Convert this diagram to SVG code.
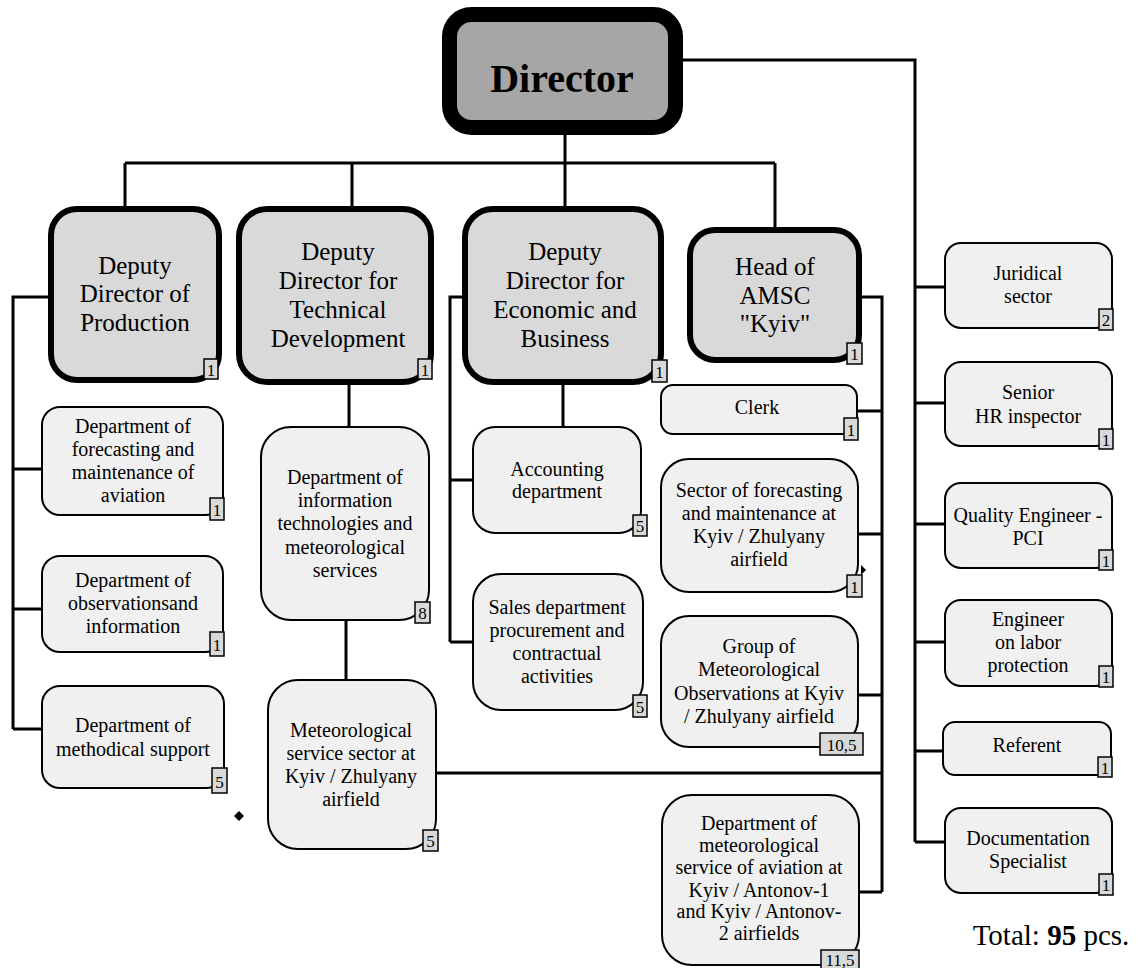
<svg xmlns="http://www.w3.org/2000/svg" width="1139" height="968" viewBox="0 0 1139 968" font-family="'Liberation Serif', 'DejaVu Serif', serif">
<style>
text{font-family:'Liberation Serif','DejaVu Serif',serif;fill:#000;text-anchor:middle}
.t{font-size:20px}
.d{font-size:25px}
.b{font-size:17px}
.sub{fill:#f0f0f0;stroke:#000;stroke-width:2}
.dep{fill:#d9d9d9;stroke:#000;stroke-width:6}
.badge{fill:#d9d9d9;stroke:#000;stroke-width:1.5}
.c{stroke:#000;stroke-width:3;fill:none}
</style>
<rect width="1139" height="968" fill="#fff"/>
<g id="connectors">
<path class="c" d="M683 60H915V842M915 287H944M915 403H944M915 524H944M915 642H944M915 751H944M915 842H944"/>
<path class="c" d="M565 135V209M125 163H775M125 163V209M352 163V209M775 163V230"/>
<path class="c" d="M51 297H13V729M13 469H41M13 609H41M13 729H41"/>
<path class="c" d="M349 382V426M346 620V679"/>
<path class="c" d="M465 297H450V642M450 480H472M450 642H472M563 382V426"/>
<path class="c" d="M859 297H882V892M857 411H882M859 534H882M859 695H882M437 773H882M860 892H882"/>
<path d="M239 811L244 816L239 821L234 816Z" fill="#000"/>
<path d="M861 565L866 570L861 575Z" fill="#000"/>
</g>
<g id="director">
<rect x="449.5" y="14.5" width="226" height="113" rx="22" fill="#a6a6a6" stroke="#000" stroke-width="15"/>
<text x="562" y="92" style="font-size:40px;font-weight:bold">Director</text>
</g>
<g id="dep-production">
<rect class="dep" x="51" y="209" width="168" height="171" rx="26"/>
<text class="d" x="135" y="274">Deputy</text>
<text class="d" x="135" y="302">Director of</text>
<text class="d" x="135" y="331">Production</text>
<rect class="badge" x="204" y="359" width="14" height="20"/><text class="b" x="211" y="376">1</text>
</g>
<g id="dep-technical">
<rect class="dep" x="239" y="209" width="192" height="173" rx="28"/>
<text class="d" x="338" y="260">Deputy</text>
<text class="d" x="338" y="289">Director for</text>
<text class="d" x="338" y="318">Technical</text>
<text class="d" x="338" y="347">Development</text>
<rect class="badge" x="418" y="359" width="14" height="20"/><text class="b" x="425" y="376">1</text>
</g>
<g id="dep-economic">
<rect class="dep" x="465" y="209" width="196" height="173" rx="28"/>
<text class="d" x="565" y="260">Deputy</text>
<text class="d" x="565" y="289">Director for</text>
<text class="d" x="565" y="318">Economic and</text>
<text class="d" x="565" y="347">Business</text>
<rect class="badge" x="652" y="360" width="15" height="22"/><text class="b" x="659.5" y="378">1</text>
</g>
<g id="head-amsc">
<rect class="dep" x="690" y="230" width="169" height="130" rx="25"/>
<text class="d" x="775" y="275">Head of</text>
<text class="d" x="775" y="304">AMSC</text>
<text class="d" x="775" y="332">"Kyiv"</text>
<rect class="badge" x="847" y="343" width="15" height="21"/><text class="b" x="854.5" y="360">1</text>
</g>
<g id="forecasting-aviation">
<rect class="sub" x="42" y="407" width="181" height="108" rx="18"/>
<text class="t" x="133" y="433">Department of</text>
<text class="t" x="133" y="456">forecasting and</text>
<text class="t" x="133" y="479">maintenance of</text>
<text class="t" x="133" y="502">aviation</text>
<rect class="badge" x="210" y="498" width="14" height="22"/><text class="b" x="217" y="516">1</text>
</g>
<g id="observations">
<rect class="sub" x="42" y="556" width="181" height="96" rx="18"/>
<text class="t" x="133" y="587">Department of</text>
<text class="t" x="133" y="610">observationsand</text>
<text class="t" x="133" y="633">information</text>
<rect class="badge" x="210" y="632" width="14" height="24"/><text class="b" x="217" y="651">1</text>
</g>
<g id="methodical">
<rect class="sub" x="42" y="686" width="182" height="102" rx="18"/>
<text class="t" x="133" y="732">Department of</text>
<text class="t" x="133" y="756">methodical support</text>
<rect class="badge" x="212" y="768" width="15" height="25"/><text class="b" x="219.5" y="788">5</text>
</g>
<g id="info-tech">
<rect class="sub" x="261" y="427" width="168" height="193" rx="30"/>
<text class="t" x="345" y="484">Department of</text>
<text class="t" x="345" y="507">information</text>
<text class="t" x="345" y="530">technologies and</text>
<text class="t" x="345" y="554">meteorological</text>
<text class="t" x="345" y="577">services</text>
<rect class="badge" x="415" y="602" width="15" height="21"/><text class="b" x="422.5" y="619">8</text>
</g>
<g id="meteo-service">
<rect class="sub" x="268" y="680" width="168" height="169" rx="30"/>
<text class="t" x="351" y="737">Meteorological</text>
<text class="t" x="351" y="760">service sector at</text>
<text class="t" x="351" y="783">Kyiv / Zhulyany</text>
<text class="t" x="351" y="806">airfield</text>
<rect class="badge" x="423" y="830" width="15" height="21"/><text class="b" x="430.5" y="847">5</text>
</g>
<g id="accounting">
<rect class="sub" x="473" y="427" width="168" height="106" rx="22"/>
<text class="t" x="557" y="476">Accounting</text>
<text class="t" x="557" y="498">department</text>
<rect class="badge" x="633" y="515" width="14" height="21"/><text class="b" x="640" y="532">5</text>
</g>
<g id="sales">
<rect class="sub" x="473" y="574" width="170" height="136" rx="28"/>
<text class="t" x="557" y="614">Sales department</text>
<text class="t" x="557" y="637">procurement and</text>
<text class="t" x="557" y="660">contractual</text>
<text class="t" x="557" y="683">activities</text>
<rect class="badge" x="633" y="695" width="14" height="22"/><text class="b" x="640" y="713">5</text>
</g>
<g id="clerk">
<rect class="sub" x="661" y="385" width="196" height="49" rx="12"/>
<text class="t" x="757" y="414">Clerk</text>
<rect class="badge" x="844" y="418" width="14" height="22"/><text class="b" x="851" y="436">1</text>
</g>
<g id="sector-forecasting">
<rect class="sub" x="661" y="459" width="197" height="133" rx="28"/>
<text class="t" x="759" y="497">Sector of forecasting</text>
<text class="t" x="759" y="520">and maintenance at</text>
<text class="t" x="759" y="543">Kyiv / Zhulyany</text>
<text class="t" x="759" y="566">airfield</text>
<rect class="badge" x="847" y="575" width="15" height="22"/><text class="b" x="854.5" y="593">1</text>
</g>
<g id="group-observations">
<rect class="sub" x="661" y="616" width="197" height="131" rx="28"/>
<text class="t" x="759" y="653">Group of</text>
<text class="t" x="759" y="676">Meteorological</text>
<text class="t" x="759" y="700">Observations at Kyiv</text>
<text class="t" x="759" y="723">/ Zhulyany airfield</text>
<rect class="badge" x="820" y="733" width="43" height="22"/><text class="b" x="841.5" y="751">10,5</text>
</g>
<g id="dept-antonov">
<rect class="sub" x="662" y="795" width="197" height="170" rx="30"/>
<text class="t" x="759" y="830">Department of</text>
<text class="t" x="759" y="852">meteorological</text>
<text class="t" x="759" y="874">service of aviation at</text>
<text class="t" x="759" y="897">Kyiv / Antonov-1</text>
<text class="t" x="759" y="918">and Kyiv / Antonov-</text>
<text class="t" x="759" y="940">2 airfields</text>
<rect class="badge" x="821" y="950" width="38" height="22"/><text class="b" x="840" y="966">11,5</text>
</g>
<g id="juridical">
<rect class="sub" x="945" y="243" width="167" height="85" rx="16"/>
<text class="t" x="1028" y="280">Juridical</text>
<text class="t" x="1028" y="303">sector</text>
<rect class="badge" x="1099" y="309" width="14" height="21"/><text class="b" x="1106" y="326">2</text>
</g>
<g id="hr">
<rect class="sub" x="945" y="362" width="167" height="84" rx="16"/>
<text class="t" x="1028" y="399">Senior</text>
<text class="t" x="1028" y="423">HR inspector</text>
<rect class="badge" x="1099" y="429" width="14" height="20"/><text class="b" x="1106" y="446">1</text>
</g>
<g id="quality">
<rect class="sub" x="945" y="483" width="167" height="85" rx="16"/>
<text class="t" x="1028" y="522">Quality Engineer -</text>
<text class="t" x="1028" y="545">PCI</text>
<rect class="badge" x="1099" y="550" width="14" height="20"/><text class="b" x="1106" y="567">1</text>
</g>
<g id="labor">
<rect class="sub" x="945" y="600" width="167" height="86" rx="16"/>
<text class="t" x="1028" y="626">Engineer</text>
<text class="t" x="1028" y="649">on labor</text>
<text class="t" x="1028" y="672">protection</text>
<rect class="badge" x="1099" y="666" width="14" height="21"/><text class="b" x="1106" y="683">1</text>
</g>
<g id="referent">
<rect class="sub" x="943" y="722" width="168" height="53" rx="12"/>
<text class="t" x="1027" y="752">Referent</text>
<rect class="badge" x="1098" y="757" width="14" height="20"/><text class="b" x="1105" y="774">1</text>
</g>
<g id="documentation">
<rect class="sub" x="945" y="808" width="167" height="85" rx="16"/>
<text class="t" x="1028" y="845">Documentation</text>
<text class="t" x="1028" y="868">Specialist</text>
<rect class="badge" x="1099" y="874" width="14" height="21"/><text class="b" x="1106" y="891">1</text>
</g>
<g id="total">
<text x="1051" y="945" style="font-size:29px">Total: <tspan font-weight="bold">95</tspan> pcs.</text>
</g>
</svg>
